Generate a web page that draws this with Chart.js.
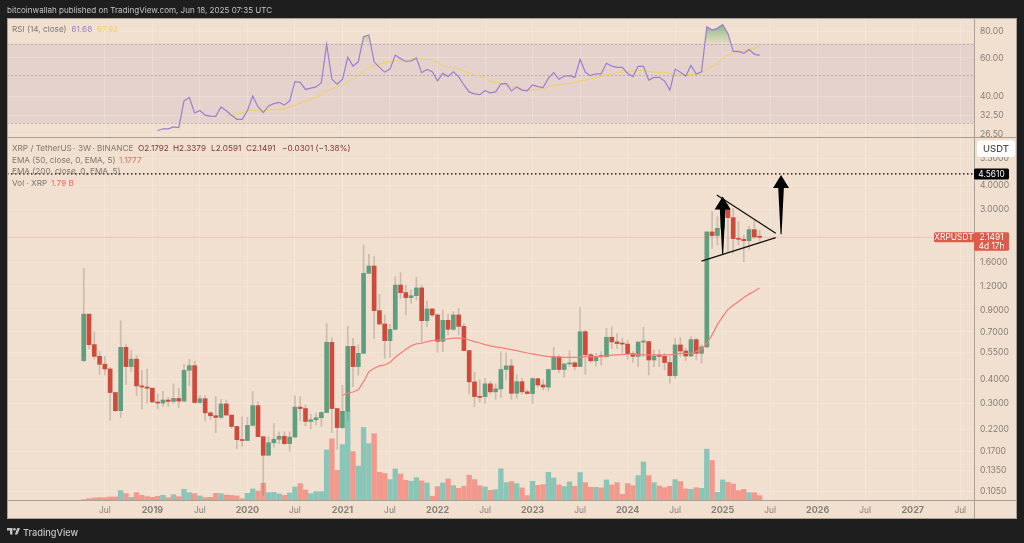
<!DOCTYPE html>
<html>
<head>
<meta charset="utf-8">
<title>XRP / TetherUS 3W</title>
<script src="https://cdn.jsdelivr.net/npm/chart.js@4"></script>
<style>
  html, body { margin: 0; padding: 0; background: #1e1e1e; }
  #wrap { position: relative; width: 1024px; height: 543px; overflow: hidden; font-family: Inter, "Liberation Sans", sans-serif; }
  canvas { position: absolute; left: 0; top: 0; }
  .t { position: absolute; white-space: pre; font-size: 8.2px; line-height: 11px; color: #7d7772; }
  .head { color: #c4c4c4; font-size: 8.05px; }
  .ohlc { color: #7b3a30; }
  .red { color: #ef6a5f; }
  .purple { color: #9a7fd1; }
  .yellow { color: #f2cf62; }
  .foot { color: #c4c4c4; font-size: 9.2px; font-weight: 500; }
</style>
</head>
<body>
<div id="wrap">
  <canvas id="chart" width="1024" height="543"></canvas>
  <div class="t head" style="left:7px;top:5px">bitcoinwallah published on TradingView.com, Jun 18, 2025 07:35 UTC</div>
  <div class="t" style="left:12px;top:23.5px">RSI (14, close)</div>
  <div class="t purple" style="left:71.5px;top:23.5px">61.68</div>
  <div class="t yellow" style="left:97px;top:23.5px">67.92</div>
  <div class="t" style="left:12px;top:143px">XRP / TetherUS</div>
  <div class="t" style="left:73px;top:143px">·</div>
  <div class="t" style="left:78px;top:143px">3W</div>
  <div class="t" style="left:92.5px;top:143px">·</div>
  <div class="t" style="left:97px;top:143px">BINANCE</div>
  <div class="t ohlc" style="left:138px;top:143px">O2.1792</div>
  <div class="t ohlc" style="left:173px;top:143px">H2.3379</div>
  <div class="t ohlc" style="left:211px;top:143px">L2.0591</div>
  <div class="t ohlc" style="left:246px;top:143px">C2.1491</div>
  <div class="t ohlc" style="left:282px;top:143px">−0.0301 (−1.38%)</div>
  <div class="t" style="left:12px;top:154.5px">EMA (50, close, 0, EMA, 5)</div>
  <div class="t red" style="left:119px;top:154.5px">1.1777</div>
  <div class="t" style="left:12px;top:166px">EMA (200, close, 0, EMA, 5)</div>
  <div class="t" style="left:12px;top:177.5px">Vol · XRP</div>
  <div class="t red" style="left:51px;top:177.5px">1.79 B</div>
  <svg style="position:absolute;left:6.5px;top:528px" width="13" height="7" viewBox="0 0 13 7">
    <path d="M0 0h5.5v6.5H3V2.5H0z M7.8 6.5L10.3 0H13l-2.6 6.5z" fill="#c4c4c4"/><circle cx="7.4" cy="1.3" r="1.3" fill="#c4c4c4"/>
  </svg>
  <div class="t foot" style="left:23px;top:526.5px">TradingView</div>
</div>
<script>
// 3W candles, index = bar number
const opens = [.498,.864,.602,.524,.477,.451,.341,.275,.583,.464,.507,.369,.364,.359,.305,.301,.312,.307,.318,.308,.444,.469,.303,.317,.268,.259,.254,.298,.261,.228,.195,.193,.231,.292,.202,.162,.188,.196,.203,.186,.201,.287,.282,.242,.247,.253,.269,.619,.282,.225,.273,.590,.464,.543,1.403,1.530,.901,.769,.631,.722,1.221,1.116,1.052,1.076,1.18,.800,.919,.856,.626,.803,.722,.856,.748,.561,.387,.325,.325,.378,.344,.356,.448,.468,.338,.388,.344,.337,.402,.373,.364,.448,.520,.448,.479,.485,.464,.702,.534,.497,.524,.522,.657,.622,.610,.606,.541,.524,.621,.624,.502,.526,.524,.487,.417,.600,.558,.526,.639,.543,.586,2.292,2.196,2.393,3.00,2.716,2.12,2.10,2.067,2.355,2.1792];
const highs = [1.489,.864,.702,.556,.522,.460,.341,.798,.602,.565,.528,.443,.450,.359,.335,.346,.322,.378,.359,.475,.507,.494,.329,.328,.272,.325,.315,.312,.261,.229,.256,.254,.345,.306,.202,.202,.236,.214,.214,.214,.328,.325,.295,.264,.267,.272,.775,.654,.282,.371,.751,.649,.600,1.96,1.76,1.71,1.094,.856,.767,1.349,1.414,1.221,1.151,1.338,1.221,1.012,.926,.866,.908,.866,.890,.926,.775,.565,.434,.396,.404,.388,.378,.554,.547,.506,.420,.404,.352,.407,.402,.396,.450,.583,.532,.483,.561,.492,.934,.716,.543,.543,.554,.730,.745,.689,.649,.636,.554,.624,.740,.628,.565,.565,.543,.522,.649,.655,.576,.662,.649,.600,2.292,2.916,2.748,3.417,3.22,3.03,2.59,2.21,2.44,2.641,2.3379];
const lows = [.492,.574,.506,.424,.420,.246,.272,.253,.376,.437,.328,.281,.300,.303,.281,.289,.289,.300,.285,.306,.371,.300,.300,.243,.248,.212,.251,.261,.223,.175,.180,.193,.228,.202,.101,.162,.178,.186,.184,.170,.201,.244,.230,.221,.232,.228,.269,.212,.174,.221,.244,.366,.420,.543,1.403,.649,.763,.512,.516,.716,1.043,.856,.983,1.023,.612,.745,.839,.549,.554,.676,.711,.676,.561,.335,.289,.304,.300,.335,.315,.322,.396,.315,.318,.335,.335,.300,.363,.352,.348,.448,.432,.409,.464,.446,.464,.424,.487,.468,.473,.516,.576,.576,.543,.506,.487,.464,.522,.420,.464,.464,.446,.381,.404,.522,.498,.522,.502,.483,.58,1.887,1.964,1.925,1.792,1.779,1.964,1.612,1.85,2.125,2.0591];
const closes = [.864,.602,.524,.477,.451,.341,.275,.583,.464,.507,.369,.364,.359,.305,.301,.312,.307,.318,.308,.444,.469,.303,.317,.268,.259,.254,.298,.261,.228,.195,.193,.231,.292,.202,.162,.188,.196,.203,.186,.201,.287,.282,.242,.247,.253,.269,.619,.282,.225,.273,.590,.464,.543,1.403,1.530,.901,.769,.631,.722,1.221,1.116,1.052,1.076,1.18,.800,.919,.856,.626,.803,.722,.856,.748,.561,.387,.325,.322,.378,.344,.356,.448,.468,.338,.388,.344,.337,.402,.373,.364,.448,.520,.448,.479,.485,.464,.702,.534,.497,.524,.522,.657,.622,.610,.606,.541,.524,.621,.624,.502,.526,.524,.487,.417,.600,.558,.526,.639,.543,.586,2.292,2.196,2.393,3.00,2.716,2.116,2.10,2.067,2.355,2.16,2.1491];
// billions
const volumes = [.14,.55,.83,.97,.97,1.25,1.25,3.88,2.64,1.11,3.05,1.94,1.39,1.11,1.53,1.94,.97,2.22,1.39,4.44,3.05,2.64,1.66,.97,1.11,2.77,2.64,2.08,1.94,1.66,.55,2.77,4.58,3.74,6.94,3.05,3.19,2.5,1.94,2.91,5.41,6.8,4.16,2.64,3.47,3.47,20.8,25.4,12.3,23.0,36.8,20.1,14.1,30.1,23.4,27.5,11.5,11.0,8.46,12.9,10.8,8.18,7.77,9.29,7.91,7.07,1.53,5.55,7.07,8.74,5.96,4.85,5.69,10.3,8.46,5.96,5.41,4.02,4.3,13.0,7.21,7.63,6.8,4.99,1.8,7.77,6.1,6.38,11.5,9.15,6.24,5.55,7.49,5.69,11.4,7.21,5.27,5.27,4.99,8.32,6.24,7.21,2.36,6.8,5.96,10.1,15.8,10.1,7.21,5.83,5.13,5.69,8.46,7.63,4.58,4.44,5.13,4.85,21.1,16.4,3.19,8.32,7.35,6.66,3.88,4.44,3.05,3.05,1.79];

// EMA 50 starts at bar 49
const emaStart = 49;
const emaValues = [.330,.338,.343,.352,.388,.437,.455,.468,.473,.487,.518,.543,.570,.593,.607,.612,.624,.631,.636,.639,.644,.651,.651,.649,.636,.624,.614,.602,.593,.586,.581,.574,.567,.561,.552,.545,.539,.533,.527,.522,.522,.520,.518,.518,.518,.518,.524,.522,.522,.522,.527,.531,.533,.535,.537,.537,.535,.533,.533,.533,.533,.533,.533,.537,.543,.543,.543,.554,.570,.612,.676,.763,.839,.915,.960,1.004,1.052,1.096,1.135,1.1777];

// RSI 14 starts at bar 14, its moving average at bar 27
const rsiStart = 14;
const rsiValues = [27.7,28.2,28.2,28.8,28.6,38.0,39.4,33.4,34.3,32.6,32.3,32.2,35.6,34.2,32.6,31.2,31.2,34.2,40.0,35.7,33.5,36.0,36.9,37.4,36.3,38.0,46.6,46.3,42.9,43.5,44.1,46.1,69.4,47.8,45.4,47.8,60.4,55.0,57.6,75.3,76.7,57.6,54.3,51.6,53.3,61.9,59.6,57.8,58.2,59.9,51.3,53.1,51.8,47.0,50.9,49.2,51.8,49.2,45.0,41.8,40.9,40.6,42.3,41.4,41.8,45.4,45.8,42.2,44.1,42.6,42.3,45.0,44.2,43.8,48.4,51.3,47.8,49.5,49.7,48.8,59.1,51.5,49.7,50.7,50.7,56.7,55.0,54.3,54.3,50.9,49.2,54.9,54.9,47.4,48.8,48.8,47.0,42.6,53.3,51.5,49.5,55.4,50.6,51.8,83.8,80.8,82.3,85.6,78.0,64.4,64.4,63.0,65.7,62.5,61.68];
const rsiMaStart = 27;
const rsiMaValues = [32.4,32.6,32.9,33.4,34.2,34.4,34.2,34.1,34.3,34.6,34.8,34.9,35.5,36.3,37.1,37.8,38.6,39.4,40.5,42.3,43.2,44.3,45.0,46.6,48.1,49.6,51.8,54.3,55.4,56.0,56.9,57.8,58.5,57.8,58.5,59.4,60.2,59.4,59.1,58.9,57.1,55.3,54.3,54.1,53.7,52.4,51.2,50.0,49.7,48.6,46.8,46.3,45.8,45.2,44.3,43.6,43.0,42.7,42.7,43.0,43.2,44.1,44.6,45.2,45.6,45.8,46.1,47.0,47.4,48.0,48.6,49.2,50.0,50.7,51.3,51.6,51.8,52.4,52.5,52.5,52.0,51.6,51.5,51.3,50.9,50.7,50.4,50.2,50.2,50.4,51.6,52.9,54.7,56.7,60.0,61.9,63.0,63.6,64.5,65.7,66.8,67.92];
const rsiLevels = [70, 50, 30];

// axes
const tickBars = [4,13,22,31,40,49,58,67,76,85,94,103,112,121,130,139,148,157,166];
const tickLabels = ["Jul","2019","Jul","2020","Jul","2021","Jul","2022","Jul","2023","Jul","2024","Jul","2025","Jul","2026","Jul","2027","Jul"];
const priceTicks = [5.5,4,3,1.6,1.2,.9,.7,.55,.4,.3,.22,.17,.135,.105];
const rsiTicks = [80,60,40,32.5,26.5];

// drawn on the chart: [bar, price]
const targetPrice = 4.561;
const lastPrice = 2.1491;
const trendUpper = [[119.9,3.55],[131.06,2.255]];
const trendLower = [[117,1.62],[131.06,2.14]];
const arrowBars = [121,132.06];
const arrowTips = [3.49,4.5];
const arrowTails = [1.76,2.23];

const UP = "#5f9f7f", DOWN = "#cf4a3a", VOL_UP = "#8ac6b8", VOL_DOWN = "#f3988c", WICK = "rgba(125,115,105,0.32)";
const PANEL = "#f1dfcf", AXIS_LINE = "#a8a097", TEXT = "#85807a";
const X_MIN = -14.53, X_MAX = 168.6;

const isUp = opens.map((o, i) => closes[i] >= o);
const bars = (values, start = 0) => values.map((y, i) => ({ x: i + start, y }));
const pairs = (list) => list.map(([x, y]) => ({ x, y }));
const flat = (y) => [{ x: X_MIN, y }, { x: X_MAX, y }];

const canvas = document.getElementById("chart");
const ctx = canvas.getContext("2d");
const overbought = ctx.createLinearGradient(0, 22, 0, 44);
overbought.addColorStop(0, "rgba(95,165,95,0.85)");
overbought.addColorStop(1, "rgba(130,185,120,0.1)");

// pane background, rsi band and borders
const paneChrome = {
  id: "paneChrome",
  beforeDraw(chart) {
    const c = chart.ctx, a = chart.chartArea, rsi = chart.scales.yRsi;
    const right = rsi.right, bottom = chart.scales.x.bottom;
    c.save();
    c.fillStyle = PANEL;
    c.fillRect(a.left, a.top, right - a.left, bottom - a.top);
    c.fillStyle = "rgba(126,87,194,0.09)";
    c.fillRect(a.left, rsi.getPixelForValue(70), a.width, rsi.getPixelForValue(30) - rsi.getPixelForValue(70));
    c.restore();
  },
  beforeDatasetsDraw(chart) {
    const c = chart.ctx, a = chart.chartArea, rsi = chart.scales.yRsi;
    c.save();
    c.strokeStyle = "rgba(120,110,105,0.38)";
    c.lineWidth = 1;
    c.setLineDash([2, 2]);
    rsiLevels.forEach((lvl) => {
      const y = Math.round(rsi.getPixelForValue(lvl)) + 0.5;
      c.beginPath();
      c.moveTo(a.left, y);
      c.lineTo(a.right, y);
      c.stroke();
    });
    c.restore();
  },
  afterDraw(chart) {
    const c = chart.ctx, a = chart.chartArea, price = chart.scales.yPrice, x = chart.scales.x;
    const right = price.right, bottom = x.bottom;
    c.save();
    c.strokeStyle = AXIS_LINE;
    c.lineWidth = 1;
    c.beginPath();
    c.moveTo(a.right + 0.5, a.top); c.lineTo(a.right + 0.5, bottom);
    c.moveTo(a.left, Math.round(price.top) + 0.5); c.lineTo(right, Math.round(price.top) + 0.5);
    c.moveTo(a.left, Math.round(a.bottom) + 0.5); c.lineTo(right, Math.round(a.bottom) + 0.5);
    c.stroke();
    c.strokeRect(a.left + 0.5, a.top + 0.5, right - a.left - 1, bottom - a.top - 1);

    // arrows, black head on a tapering shaft
    c.fillStyle = "#000";
    arrowBars.forEach((bar, i) => {
      const px = x.getPixelForValue(bar), tip = price.getPixelForValue(arrowTips[i]), tail = price.getPixelForValue(arrowTails[i]);
      c.beginPath();
      c.moveTo(px, tip);
      c.lineTo(px + 8, tip + 13);
      c.lineTo(px + 2.8, tip + 13);
      c.lineTo(px + 0.5, tail);
      c.lineTo(px - 0.5, tail);
      c.lineTo(px - 2.8, tip + 13);
      c.lineTo(px - 8, tip + 13);
      c.closePath();
      c.fill();
    });

    // price tags on the axis
    const tagFont = "8.4px Inter, sans-serif";
    const tag = (left, top, w, h, bg, fg, lines) => {
      c.fillStyle = bg;
      c.beginPath();
      c.roundRect(left, top, w, h, 1.5);
      c.fill();
      c.fillStyle = fg;
      c.font = tagFont;
      c.textAlign = "center";
      c.textBaseline = "middle";
      lines.forEach((s, i) => c.fillText(s, left + w / 2, top + (h / lines.length) * (i + 0.5) + 0.5));
    };
    const axisX = a.right;
    const yLast = price.getPixelForValue(lastPrice), yTarget = price.getPixelForValue(targetPrice);
    tag(axisX, yTarget - 5.5, 35, 11, "#000", "#fff", ["4.5610"]);
    tag(axisX - 40, yLast - 5, 40, 10, "#dd5b4b", "#fff", ["XRPUSDT"]);
    tag(axisX, yLast - 5, 35, 18.5, "#dd5b4b", "#fff", ["2.1491", "4d 17h"]);
    c.fillStyle = "#fff";
    c.beginPath();
    c.roundRect(axisX + 3, price.top + 3.5, 38, 16.5, 3);
    c.fill();
    c.fillStyle = "#55504c";
    c.font = "500 9.5px Inter, sans-serif";
    c.textAlign = "center";
    c.textBaseline = "middle";
    c.fillText("USDT", axisX + 22, price.top + 12);
    c.restore();
  },
};

const yAxisBase = {
  position: "right",
  type: "logarithmic",
  stack: "panes",
  border: { display: false },
  grid: { color: "rgba(255,255,255,0.2)", drawTicks: false },
  afterFit(axis) { axis.width = 43; },
};

new Chart(canvas, {
  type: "bar",
  data: {
    datasets: [
      // rsi pane
      { type: "line", label: "RSI MA", yAxisID: "yRsi", data: bars(rsiMaValues, rsiMaStart), borderColor: "#f2cf62", borderWidth: 1, pointRadius: 0, order: 2 },
      { type: "line", label: "RSI", yAxisID: "yRsi", data: bars(rsiValues, rsiStart), borderColor: "#9a7fd1", borderWidth: 1.2, pointRadius: 0, order: 1,
        fill: { target: { value: 70 }, above: overbought, below: "rgba(0,0,0,0)" } },
      // volume under the candles
      { label: "Vol", yAxisID: "yVol", data: bars(volumes), backgroundColor: isUp.map((u) => (u ? VOL_UP : VOL_DOWN)), barThickness: 4.7, order: 9 },
      // candles: wick then body, floating bars on the log scale
      { label: "Wick", yAxisID: "yPrice", data: lows.map((l, i) => ({ x: i, y: [l, highs[i]] })), backgroundColor: WICK, barThickness: 1, order: 8 },
      { label: "Body", yAxisID: "yPrice", data: opens.map((o, i) => ({ x: i, y: [o, closes[i]] })), backgroundColor: isUp.map((u) => (u ? UP : DOWN)), barThickness: 4, minBarLength: 1, order: 7 },
      { type: "line", label: "EMA 50", yAxisID: "yPrice", data: bars(emaValues, emaStart), borderColor: "#f57f78", borderWidth: 1.2, pointRadius: 0, order: 6 },
      { type: "line", label: "Last", yAxisID: "yPrice", data: flat(lastPrice), borderColor: "rgba(225,110,90,0.22)", borderWidth: 1, pointRadius: 0, order: 5 },
      { type: "line", label: "Target", yAxisID: "yPrice", data: flat(targetPrice), borderColor: "#000", borderWidth: 1.2, borderDash: [1.5, 2.5], pointRadius: 0, order: 4 },
      { type: "line", label: "Upper", yAxisID: "yPrice", data: pairs(trendUpper), borderColor: "#111", borderWidth: 1.3, pointRadius: 0, order: 3 },
      { type: "line", label: "Lower", yAxisID: "yPrice", data: pairs(trendLower), borderColor: "#111", borderWidth: 1.3, pointRadius: 0, order: 3 },
    ],
  },
  options: {
    responsive: false,
    animation: false,
    devicePixelRatio: 1,
    events: [],
    grouped: false,
    layout: { padding: { left: 7, top: 18, right: 7, bottom: 24 } },
    plugins: { legend: { display: false }, tooltip: { enabled: false } },
    scales: {
      x: {
        type: "linear",
        offset: false,
        min: X_MIN,
        max: X_MAX,
        border: { display: false },
        grid: { color: "rgba(255,255,255,0.2)", drawTicks: false, offset: false },
        afterBuildTicks(axis) { axis.ticks = tickBars.map((value) => ({ value })); },
        afterFit(axis) { axis.height = 19; },
        ticks: {
          autoSkip: false,
          maxRotation: 0,
          padding: 5,
          color: TEXT,
          font: (c) => ({ family: "Inter, sans-serif", size: c.index % 2 ? 9 : 8.4, weight: c.index % 2 ? "bold" : "normal" }),
          callback: (v, i) => tickLabels[i],
        },
      },
      yRsi: {
        ...yAxisBase,
        stackWeight: 119,
        min: 25.84,
        max: 91.9,
        afterBuildTicks(axis) { axis.ticks = rsiTicks.map((value) => ({ value })); },
        ticks: { autoSkip: false, padding: 6, color: TEXT, font: { family: "Inter, sans-serif", size: 8.6 }, callback: (v) => Number(v).toFixed(2) },
      },
      yPrice: {
        ...yAxisBase,
        stackWeight: 363,
        min: 0.0953,
        max: 7.07,
        afterBuildTicks(axis) { axis.ticks = priceTicks.map((value) => ({ value })); },
        ticks: { autoSkip: false, padding: 6, color: TEXT, font: { family: "Inter, sans-serif", size: 8.6 }, callback: (v) => Number(v).toFixed(4) },
      },
      yVol: { position: "right", display: false, min: 0, max: 200 },
    },
  },
  plugins: [paneChrome],
});
</script>
</body>
</html>
